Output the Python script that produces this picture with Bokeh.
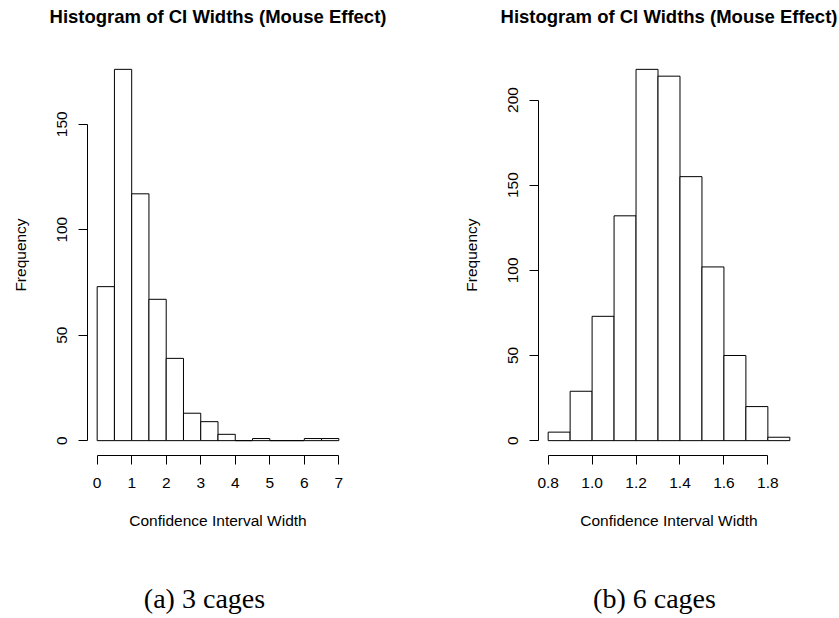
from bokeh.plotting import figure
from bokeh.models import Range1d, FixedTicker, Label, NumeralTickFormatter
from bokeh.layouts import row, column
from bokeh.embed import file_html
from bokeh.resources import INLINE

# ---- data ----
edges_a = [0.0, 0.5, 1.0, 1.5, 2.0, 2.5, 3.0, 3.5, 4.0, 4.5, 5.0, 5.5, 6.0, 6.5, 7.0]
counts_a = [73, 176, 117, 67, 39, 13, 9, 3, 0, 1, 0, 0, 1, 1]
xticks_a = [0, 1, 2, 3, 4, 5, 6, 7]
yticks_a = [0, 50, 100, 150]

edges_b = [0.8, 0.9, 1.0, 1.1, 1.2, 1.3, 1.4, 1.5, 1.6, 1.7, 1.8, 1.9]
counts_b = [5, 29, 73, 132, 218, 214, 155, 102, 50, 20, 2]
xticks_b = [0.8, 1.0, 1.2, 1.4, 1.6, 1.8]
yticks_b = [0, 50, 100, 150, 200]

title_text = "Histogram of CI Widths (Mouse Effect)"
xlabel = "Confidence Interval Width"
ylabel = "Frequency"
captions = ["(a) 3 cages", "(b) 6 cages"]

SANS = "Liberation Sans"
SERIF = "Liberation Serif"

TITLE_H = 34
CAP_H = 58
MAIN_H = 618 - TITLE_H - CAP_H


def padded(lo, hi):
    d = (hi - lo) * 0.04
    return lo - d, hi + d


def text_strip(width, height, text, sx, sy, font, size, style):
    s = figure(width=width, height=height, output_backend="svg", toolbar_location=None,
               x_range=Range1d(0, 1), y_range=Range1d(0, 1),
               x_axis_type=None, y_axis_type=None,
               min_border_left=0, min_border_right=0, min_border_top=0, min_border_bottom=0,
               background_fill_color="white", border_fill_color="white")
    s.outline_line_color = None
    s.grid.visible = False
    s.add_layout(Label(x=sx, y=sy, x_units="screen", y_units="screen", text=text,
                       text_align="center", text_baseline="middle",
                       text_font=font, text_font_size=size, text_font_style=style,
                       text_color="black"))
    return s


def make_hist(edges, counts, xticks, yticks, width, mleft, mright, xfmt=None):
    x0, x1 = padded(edges[0], edges[-1])
    y0, y1 = padded(0, max(counts))
    p = figure(width=width, height=MAIN_H, output_backend="svg", toolbar_location=None,
               x_range=Range1d(x0, x1), y_range=Range1d(y0, y1),
               min_border_left=mleft, min_border_right=mright,
               min_border_top=54 - TITLE_H, min_border_bottom=618 - CAP_H - 455,
               background_fill_color="white", border_fill_color="white")
    p.outline_line_color = None
    p.grid.visible = False

    p.quad(left=edges[:-1], right=edges[1:], top=counts, bottom=0,
           fill_color="white", line_color="black", line_width=1)

    for ax in (p.xaxis[0], p.yaxis[0]):
        ax.axis_line_color = "black"
        ax.major_tick_line_color = "black"
        ax.minor_tick_line_color = None
        ax.major_tick_in = 0
        ax.major_tick_out = 9
        ax.major_label_text_font = SANS
        ax.major_label_text_font_size = "15.5px"
        ax.major_label_text_color = "black"
        ax.axis_label_text_font = SANS
        ax.axis_label_text_font_size = "15.5px"
        ax.axis_label_text_font_style = "normal"
        ax.axis_label_text_color = "black"

    p.xaxis.ticker = FixedTicker(ticks=xticks)
    p.yaxis.ticker = FixedTicker(ticks=yticks)
    p.xaxis.bounds = (xticks[0], xticks[-1])
    p.yaxis.bounds = (yticks[0], yticks[-1])
    if xfmt is not None:
        p.xaxis.formatter = xfmt
    p.yaxis.major_label_orientation = "vertical"
    p.xaxis.axis_label = xlabel
    p.yaxis.axis_label = ylabel
    p.xaxis.major_label_standoff = 13
    p.xaxis.axis_label_standoff = 21
    p.yaxis.major_label_standoff = 11
    p.yaxis.axis_label_standoff = 26
    return p


p1 = make_hist(edges_a, counts_a, xticks_a, yticks_a, 419, 87, 71)
p2 = make_hist(edges_b, counts_b, xticks_b, yticks_b, 420, 119, 40,
               xfmt=NumeralTickFormatter(format="0.0"))

# label y is measured upward from the strip bottom; text is vertically centred on it
t1 = text_strip(419, TITLE_H, title_text, 217.5, TITLE_H - 16, SANS, "18.5px", "bold")
t2 = text_strip(420, TITLE_H, title_text, 249.5, TITLE_H - 16, SANS, "18.5px", "bold")
c1 = text_strip(419, CAP_H, captions[0], 204, CAP_H - 38, SERIF, "28px", "normal")
c2 = text_strip(420, CAP_H, captions[1], 235, CAP_H - 38, SERIF, "28px", "normal")

layout = column(row(t1, t2), row(p1, p2), row(c1, c2))
open("out.html", "w").write(file_html(layout, INLINE))
